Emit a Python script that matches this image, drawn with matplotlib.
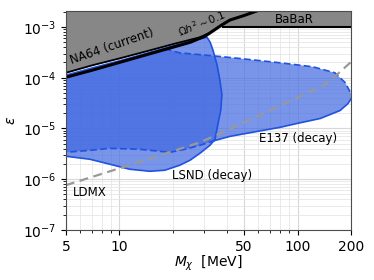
import numpy as np
import matplotlib
matplotlib.use("Agg")
import matplotlib.pyplot as plt
from matplotlib.ticker import FixedLocator, FixedFormatter, LogLocator, NullFormatter

# ------------------------------------------------------------------
# Values (M_chi in MeV, epsilon)
# ------------------------------------------------------------------
# NA64 (current) exclusion boundary
na64_m = [5, 7, 10, 15, 20, 28, 32, 36]
na64_eps = [1.25e-4, 1.75e-4, 2.4e-4, 3.5e-4, 4.6e-4, 6.2e-4, 7.6e-4, 1.0e-3]

# BaBaR bound
babar_m = [38, 200]
babar_eps = [1.0e-3, 1.0e-3]

# relic target  Omega h^2 ~ 0.1
relic_m = [5, 7, 10, 15, 20, 25, 28, 30, 32, 34.4, 37.6, 41.7, 50, 62]
relic_eps = [1.02e-4, 1.4e-4, 2.0e-4, 3.0e-4, 4.0e-4, 5.0e-4, 5.9e-4, 6.5e-4,
             7.5e-4, 8.9e-4, 1.1e-3, 1.37e-3, 1.68e-3, 2.2e-3]

# LSND (decay): upper edge, then right edge and lower edge back to M=5
lsnd_top_m = [5, 7, 10, 15, 20, 25, 30]
lsnd_top_eps = [1.12e-4, 1.55e-4, 2.15e-4, 3.2e-4, 4.25e-4, 5.3e-4, 6.1e-4]
lsnd_edge_m = [31.0, 32.3, 33.5, 35.3, 36.6, 37.6, 37.1, 35.7, 34.4, 32.2,
               28.3, 24.9, 21.8, 18.0, 14.8, 11.4, 8.83, 6.82, 5.0]
lsnd_edge_eps = [6.3e-4, 5.0e-4, 3.5e-4, 1.8e-4, 9.1e-5, 4.65e-5, 2.36e-5,
                 1.2e-5, 6.1e-6, 4.64e-6, 3.24e-6, 2.36e-6, 1.88e-6, 1.5e-6,
                 1.43e-6, 1.57e-6, 1.97e-6, 2.47e-6, 2.83e-6]

# E137 (decay): upper edge (dashed) and lower edge back to M=5
e137_top_m = [18, 21.8, 33.5, 43.4, 79.6, 122, 162, 185, 200]
e137_top_eps = [3.7e-4, 3.09e-4, 2.7e-4, 2.47e-4, 1.97e-4, 1.64e-4,
                1.25e-4, 8.0e-5, 4.8e-5]
e137_low_m = [200, 192, 173, 134, 99, 79.6, 59, 41.7, 34.4, 28.3, 23.3,
              19.2, 13.0, 8.83, 6.82, 5.0]
e137_low_eps = [3.9e-5, 3.09e-5, 2.25e-5, 1.57e-5, 1.25e-5, 1.05e-5, 8.7e-6,
                6.97e-6, 5.8e-6, 4.64e-6, 3.88e-6, 3.38e-6, 3.88e-6, 4.05e-6,
                3.7e-6, 3.38e-6]

# LDMX projection
ldmx_m = [5, 10.45, 28.3, 47.5, 79.6, 139, 168.7, 200]
ldmx_eps = [7.6e-7, 1.72e-6, 5.3e-6, 1.2e-5, 2.82e-5, 6.97e-5, 1.2e-4, 2.06e-4]

xticks = [5, 10, 50, 100, 200]
xticklabels = ["5", "10", "50", "100", "200"]

XMIN, XMAX = 5, 200
YMIN, YMAX = 1e-7, 2.1e-3

fill_blue = "#4169e1"
edge_blue = "#1f52e0"

# ------------------------------------------------------------------
fig = plt.figure(figsize=(3.74, 2.8), dpi=100)
ax = fig.add_axes([0.176, 0.179, 0.763, 0.783])
ax.set_xscale("log")
ax.set_yscale("log")

# LSND region
lsnd_m = np.concatenate([lsnd_top_m, lsnd_edge_m])
lsnd_eps = np.concatenate([lsnd_top_eps, lsnd_edge_eps])
ax.fill(lsnd_m, lsnd_eps, color=fill_blue, alpha=0.7, lw=0, zorder=2)
ax.plot(lsnd_m, lsnd_eps, color=edge_blue, lw=1.2, zorder=3)

# E137 region
left = np.array(lsnd_top_m) < 18
e_m = np.concatenate([np.array(lsnd_top_m)[left], e137_top_m, e137_low_m])
e_eps = np.concatenate([np.array(lsnd_top_eps)[left], e137_top_eps, e137_low_eps])
ax.fill(e_m, e_eps, color=fill_blue, alpha=0.7, lw=0, zorder=2)
ax.plot(e137_top_m, e137_top_eps, color=edge_blue, lw=1.2, ls=(0, (4, 2)), zorder=3)
low_m = np.array(e137_low_m)
low_eps = np.array(e137_low_eps)
solid = low_m >= 34.4
dashed = low_m <= 34.4
ax.plot(low_m[solid], low_eps[solid], color=edge_blue, lw=1.2, zorder=3)
ax.plot(low_m[dashed], low_eps[dashed], color=edge_blue, lw=1.2,
        ls=(0, (4, 2)), zorder=3)

# LDMX
ax.plot(ldmx_m, ldmx_eps, color="#999999", lw=1.6, ls=(0, (4, 2.5)), zorder=4)

# excluded (gray) regions
ax.fill_between(na64_m, na64_eps, YMAX, color="#878787", lw=0, zorder=5)
ax.fill_between([XMIN, XMAX], [1e-3, 1e-3], YMAX, color="#878787", lw=0, zorder=5)
ax.plot(na64_m, na64_eps, color="k", lw=1.3, zorder=6)
ax.plot(babar_m, babar_eps, color="k", lw=1.5, zorder=6)
ax.plot(relic_m, relic_eps, color="k", lw=2.2, zorder=6)

# labels
ax.text(0.16, 0.838, "NA64 (current)", transform=ax.transAxes, fontsize=8.5,
        rotation=19, ha="center", va="center", zorder=7)
ax.text(0.478, 0.943, r"$\Omega h^2 \sim 0.1$", transform=ax.transAxes,
        fontsize=7.5, rotation=22, ha="center", va="center", zorder=7)
ax.text(0.80, 0.958, "BaBaR", transform=ax.transAxes, fontsize=8.5,
        ha="center", va="center", zorder=7)
ax.text(0.814, 0.418, "E137 (decay)", transform=ax.transAxes, fontsize=8.5,
        ha="center", va="center", zorder=7)
ax.text(0.512, 0.246, "LSND (decay)", transform=ax.transAxes, fontsize=8.5,
        ha="center", va="center", zorder=7)
ax.text(0.084, 0.17, "LDMX", transform=ax.transAxes, fontsize=8.5,
        ha="center", va="center", zorder=7)

ax.set_xlim(XMIN, XMAX)
ax.set_ylim(YMIN, YMAX)
ax.xaxis.set_major_locator(FixedLocator(xticks))
ax.xaxis.set_major_formatter(FixedFormatter(xticklabels))
ax.xaxis.set_minor_locator(LogLocator(base=10, subs=np.arange(2, 10)))
ax.xaxis.set_minor_formatter(NullFormatter())
ax.yaxis.set_minor_locator(LogLocator(base=10, subs=np.arange(2, 10)))
ax.yaxis.set_minor_formatter(NullFormatter())

ax.grid(which="major", color="#d8d8d8", lw=0.8)
ax.grid(which="minor", color="#e6e6e6", lw=0.6)
ax.set_axisbelow(True)
ax.tick_params(labelsize=10)
for s in ax.spines.values():
    s.set_color("0.3")
    s.set_zorder(8)

ax.set_xlabel(r"$M_\chi$  [MeV]", fontsize=10, labelpad=0)
ax.set_ylabel(r"$\varepsilon$", fontsize=10, labelpad=3)

fig.savefig("out.png", dpi=100)
